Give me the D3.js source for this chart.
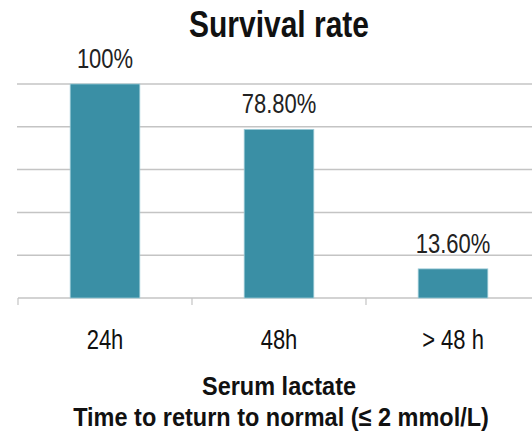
<!DOCTYPE html>
<html>
<head>
<meta charset="utf-8">
<script src="https://cdn.jsdelivr.net/npm/d3@7"></script>
<style>
  html, body { margin: 0; padding: 0; background: #fff; }
  svg { display: block; font-family: "Liberation Sans", Arial, sans-serif; }
</style>
</head>
<body>
<svg id="chart" width="532" height="431"></svg>
<script>
const categories = ["24h", "48h", "> 48 h"];
const survival = [100, 78.8, 13.6];
const valueLabels = ["100%", "78.80%", "13.60%"];
const yTicks = [0, 20, 40, 60, 80, 100];

const svg = d3.select("#chart");
const plotLeft = 18, plotRight = 540, plotTop = 84, plotBottom = 298;

const x = d3.scaleBand().domain(categories).range([plotLeft, plotRight]).paddingInner(0.6).paddingOuter(0.3);
const xTick = d3.scaleBand().domain(categories).range([plotLeft, plotRight]);
const y = d3.scaleLinear().domain([0, 100]).range([plotBottom, plotTop]);

// tall, slightly condensed lettering: draw at (0,0) and stretch vertically
function label(sel, size, stretch, weight) {
  return sel.attr("text-anchor", "middle")
    .attr("font-size", size)
    .attr("font-weight", weight || "normal")
    .attr("fill", "#111");
}
const place = (px, py, s) => `translate(${px},${py}) scale(1,${s})`;

// horizontal gridlines
svg.append("g").selectAll("line").data(yTicks.filter(t => t > 0)).join("line")
  .attr("x1", plotLeft - 1).attr("x2", 532)
  .attr("y1", d => y(d)).attr("y2", d => y(d))
  .attr("stroke", "#c4c4c4").attr("stroke-width", 1.5);

// category axis with tick marks at band boundaries
const axis = svg.append("g");
axis.append("line").attr("x1", plotLeft).attr("x2", 532).attr("y1", plotBottom).attr("y2", plotBottom)
  .attr("stroke", "#c4c4c4").attr("stroke-width", 1.5);
axis.selectAll("line.tick").data(categories).join("line").attr("class", "tick")
  .attr("x1", d => xTick(d)).attr("x2", d => xTick(d))
  .attr("y1", plotBottom).attr("y2", plotBottom + 7)
  .attr("stroke", "#c4c4c4").attr("stroke-width", 1.2);

// bars
svg.append("g").selectAll("rect").data(survival).join("rect")
  .attr("x", (d, i) => x(categories[i]))
  .attr("width", x.bandwidth())
  .attr("y", d => y(d))
  .attr("height", d => plotBottom - y(d))
  .attr("fill", "#3a8fa5")
  .attr("stroke", "#9ccad6").attr("stroke-width", 0.8);

// value labels
label(svg.append("g").selectAll("text").data(survival).join("text"), 22)
  .attr("transform", (d, i) => place(x(categories[i]) + x.bandwidth() / 2, y(d) - 16, 1.22))
  .attr("fill", "#222")
  .text((d, i) => valueLabels[i]);

// category labels
label(svg.append("g").selectAll("text").data(categories).join("text"), 22)
  .attr("transform", d => place(x(d) + x.bandwidth() / 2, 349, 1.22))
  .text(d => d);

// title
label(svg.append("text"), 30, 0, "bold")
  .attr("transform", place(279, 37, 1.2))
  .text("Survival rate");

// axis title
label(svg.append("text"), 23.5, 0, "bold")
  .attr("transform", place(279, 395, 1.12))
  .text("Serum lactate");
label(svg.append("text"), 23.5, 0, "bold")
  .attr("transform", place(281, 426, 1.12))
  .text("Time to return to normal (≤ 2 mmol/L)");
</script>
</body>
</html>
